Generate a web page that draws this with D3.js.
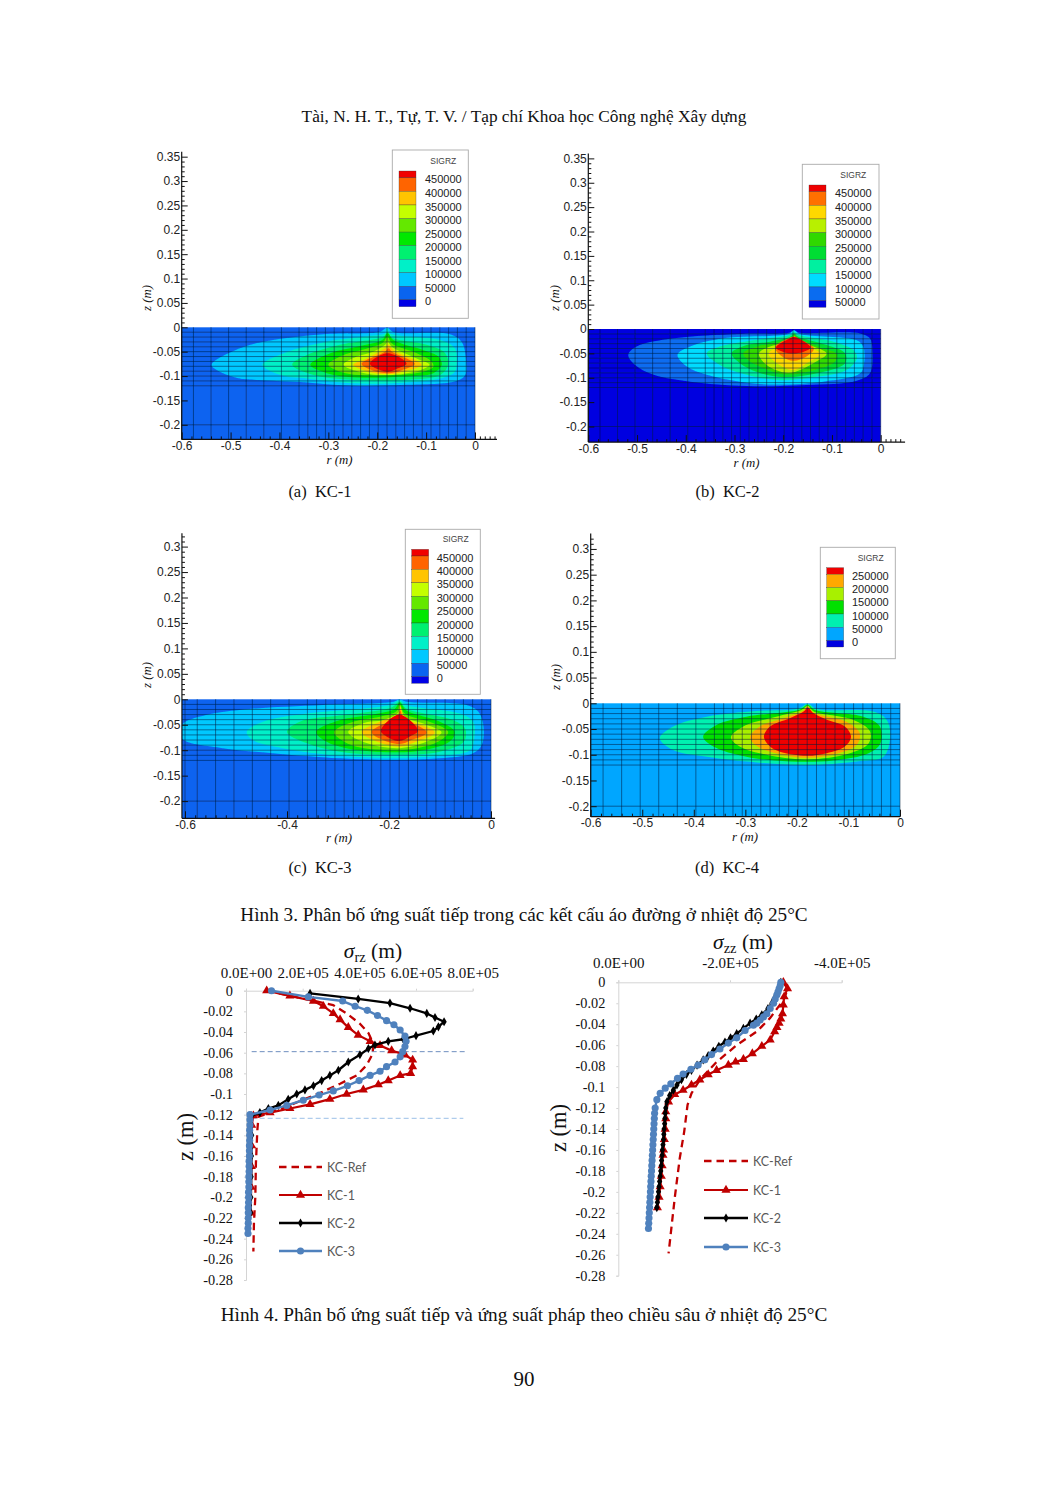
<!DOCTYPE html>
<html><head><meta charset="utf-8">
<script src="https://cdn.jsdelivr.net/npm/d3@7/dist/d3.min.js"></script>
<style>html,body{margin:0;padding:0;background:#fff}svg{display:block}</style>
</head><body><svg id="page" width="1047" height="1488"></svg>
<script>
// ---------- data: contour panels (r, z in metres, outlines of each stress band) ----------
const meshR=[-0.6,-0.576,-0.54,-0.504,-0.468,-0.432,-0.396,-0.36,-0.342,-0.324,-0.306,-0.288,-0.27,-0.252,-0.234,-0.216,-0.198,-0.18,-0.162,-0.144,-0.126,-0.108,-0.09,-0.072,-0.054,-0.036,-0.018,0];
const meshZ=[-0.01,-0.02,-0.03,-0.04,-0.05,-0.06,-0.07,-0.08,-0.09,-0.1,-0.11,-0.12,-0.2];
const colorsStd=["#0000e6","#0a64f0","#00c8ff","#00f0c8","#00f070","#00e800","#64e800","#c4ff00","#ffc400","#ff6400","#f00000"];
const colorsB=["#0000e0","#0a6cf0","#00dcff","#00f0a0","#00dd33","#30d800","#b8f000","#ffd800","#ff7000","#ee0000"];
const colorsD=["#0000e0","#00a6ff","#00f0b0","#00e000","#a8f000","#ffa800","#f00000"];
const labelsStd=["450000","400000","350000","300000","250000","200000","150000","100000","50000","0"];
const labelsB=["450000","400000","350000","300000","250000","200000","150000","100000","50000"];
const labelsD=["250000","200000","150000","100000","50000","0"];
const contoursA=[
[[-.539,-.077],[-.481,-.043],[-.413,-.026],[-.31,-.014],[-.194,-.009],[-.18,-.001],[-.166,-.01],[-.051,-.014],[-.027,-.03],[-.018,-.07],[-.02,-.098],[-.0375,-.11],[-.14,-.118],[-.249,-.12],[-.344,-.113],[-.447,-.108],[-.481,-.105],[-.522,-.091]],
[[-.435,-.077],[-.391,-.053],[-.302,-.029],[-.208,-.017],[-.184,-.012],[-.179,-.002],[-.174,-.012],[-.071,-.026],[-.041,-.043],[-.037,-.07],[-.041,-.091],[-.071,-.105],[-.14,-.113],[-.249,-.115],[-.344,-.105],[-.398,-.098]],
[[-.374,-.077],[-.344,-.057],[-.276,-.036],[-.187,-.019],[-.179,-.009],[-.17,-.021],[-.099,-.036],[-.061,-.053],[-.055,-.077],[-.071,-.098],[-.14,-.108],[-.249,-.108],[-.33,-.098]],
[[-.337,-.077],[-.296,-.053],[-.242,-.04],[-.19,-.026],[-.179,-.012],[-.167,-.026],[-.105,-.047],[-.075,-.06],[-.068,-.077],[-.085,-.094],[-.147,-.101],[-.242,-.103],[-.303,-.094]],
[[-.3,-.077],[-.269,-.057],[-.222,-.044],[-.188,-.031],[-.179,-.019],[-.17,-.033],[-.119,-.053],[-.089,-.07],[-.085,-.081],[-.106,-.091],[-.16,-.098],[-.235,-.098],[-.276,-.091]],
[[-.269,-.077],[-.242,-.06],[-.208,-.05],[-.184,-.036],[-.179,-.029],[-.17,-.04],[-.119,-.064],[-.093,-.077],[-.112,-.088],[-.177,-.098],[-.235,-.092]],
[[-.249,-.077],[-.222,-.064],[-.184,-.043],[-.177,-.036],[-.167,-.047],[-.109,-.077],[-.147,-.091],[-.177,-.096],[-.222,-.09]],
[[-.232,-.075],[-.184,-.05],[-.177,-.043],[-.17,-.05],[-.123,-.075],[-.153,-.089],[-.177,-.094],[-.208,-.089]],
[[-.215,-.074],[-.179,-.053],[-.14,-.074],[-.16,-.085],[-.177,-.091],[-.201,-.085]]];
const contoursB=[
[[-.518,-.053],[-.501,-.036],[-.425,-.019],[-.289,-.01],[-.186,-.007],[-.178,-.002],[-.169,-.007],[-.042,-.009],[-.022,-.019],[-.017,-.043],[-.022,-.091],[-.049,-.106],[-.152,-.115],[-.275,-.117],[-.391,-.108],[-.466,-.094],[-.504,-.074]],
[[-.417,-.053],[-.391,-.036],[-.323,-.019],[-.189,-.01],[-.178,-.003],[-.166,-.01],[-.049,-.023],[-.036,-.036],[-.034,-.07],[-.042,-.091],[-.118,-.108],[-.22,-.114],[-.289,-.108],[-.357,-.094],[-.398,-.077]],
[[-.357,-.05],[-.33,-.036],[-.261,-.023],[-.186,-.012],[-.178,-.005],[-.169,-.012],[-.097,-.026],[-.056,-.043],[-.049,-.06],[-.07,-.084],[-.131,-.098],[-.207,-.105],[-.275,-.094],[-.33,-.074]],
[[-.306,-.05],[-.275,-.033],[-.227,-.026],[-.186,-.016],[-.178,-.009],[-.169,-.016],[-.111,-.033],[-.073,-.05],[-.073,-.07],[-.131,-.091],[-.2,-.099],[-.254,-.088],[-.289,-.07]],
[[-.282,-.05],[-.254,-.036],[-.213,-.028],[-.182,-.019],[-.178,-.011],[-.169,-.019],[-.118,-.04],[-.09,-.051],[-.094,-.067],[-.152,-.088],[-.2,-.093],[-.248,-.077],[-.272,-.064]],
[[-.25,-.05],[-.227,-.036],[-.2,-.029],[-.181,-.019],[-.178,-.014],[-.169,-.024],[-.111,-.05],[-.138,-.07],[-.189,-.09],[-.234,-.074]],
[[-.23,-.05],[-.207,-.036],[-.181,-.024],[-.177,-.019],[-.169,-.029],[-.124,-.05],[-.152,-.07],[-.179,-.084],[-.213,-.07]],
[[-.217,-.038],[-.179,-.016],[-.172,-.019],[-.137,-.04],[-.155,-.058],[-.179,-.065],[-.2,-.058]],
[[-.215,-.038],[-.186,-.019],[-.179,-.016],[-.169,-.019],[-.144,-.038],[-.159,-.047],[-.179,-.05],[-.2,-.047]]];
const contoursC=[
[[-.606,-.05],[-.559,-.031],[-.474,-.019],[-.329,-.011],[-.192,-.005],[-.179,0],[-.166,-.005],[-.048,-.011],[-.025,-.024],[-.015,-.05],[-.018,-.09],[-.035,-.106],[-.1,-.116],[-.192,-.119],[-.297,-.116],[-.428,-.106],[-.526,-.096],[-.606,-.077]],
[[-.479,-.064],[-.447,-.044],[-.362,-.028],[-.198,-.011],[-.179,-.002],[-.166,-.011],[-.061,-.028],[-.035,-.044],[-.033,-.077],[-.041,-.1],[-.1,-.111],[-.192,-.115],[-.297,-.111],[-.408,-.096],[-.467,-.08]],
[[-.4,-.064],[-.375,-.044],[-.297,-.032],[-.195,-.016],[-.179,-.005],[-.166,-.018],[-.074,-.041],[-.051,-.057],[-.053,-.083],[-.1,-.103],[-.192,-.109],[-.297,-.103],[-.362,-.086]],
[[-.343,-.064],[-.297,-.041],[-.244,-.032],[-.189,-.019],[-.179,-.0065],[-.166,-.022],[-.1,-.044],[-.071,-.064],[-.081,-.083],[-.133,-.1],[-.192,-.104],[-.284,-.096],[-.323,-.083]],
[[-.308,-.064],[-.27,-.044],[-.225,-.036],[-.185,-.023],[-.179,-.009],[-.169,-.028],[-.113,-.047],[-.084,-.064],[-.103,-.083],[-.14,-.095],[-.185,-.1],[-.264,-.093],[-.293,-.08]],
[[-.28,-.064],[-.244,-.045],[-.212,-.041],[-.182,-.026],[-.179,-.012],[-.169,-.034],[-.126,-.05],[-.097,-.065],[-.126,-.083],[-.179,-.096],[-.244,-.086]],
[[-.254,-.064],[-.218,-.044],[-.182,-.03],[-.178,-.015],[-.169,-.036],[-.11,-.065],[-.146,-.083],[-.179,-.093],[-.231,-.08]],
[[-.234,-.064],[-.182,-.033],[-.178,-.022],[-.172,-.036],[-.126,-.065],[-.156,-.08],[-.179,-.088],[-.218,-.077]],
[[-.216,-.062],[-.18,-.03],[-.143,-.062],[-.159,-.073],[-.18,-.082],[-.205,-.073]]];
const contoursD=[
[[-.466,-.068],[-.44,-.045],[-.375,-.026],[-.278,-.015],[-.197,-.01],[-.179,-.001],[-.162,-.011],[-.052,-.016],[-.026,-.032],[-.019,-.065],[-.032,-.104],[-.084,-.113],[-.181,-.12],[-.278,-.115],[-.375,-.104],[-.44,-.091]],
[[-.382,-.065],[-.356,-.042],[-.298,-.026],[-.194,-.012],[-.179,-.003],[-.165,-.013],[-.071,-.026],[-.039,-.045],[-.038,-.078],[-.061,-.097],[-.129,-.111],[-.214,-.113],[-.298,-.104],[-.362,-.084]],
[[-.328,-.066],[-.304,-.045],[-.252,-.029],[-.191,-.013],[-.179,-.005],[-.167,-.016],[-.091,-.032],[-.058,-.055],[-.061,-.078],[-.097,-.097],[-.181,-.109],[-.259,-.1],[-.311,-.084]],
[[-.291,-.066],[-.272,-.045],[-.226,-.029],[-.187,-.014],[-.179,-.006],[-.168,-.018],[-.104,-.036],[-.078,-.058],[-.084,-.081],[-.116,-.096],[-.181,-.106],[-.252,-.094],[-.278,-.083]],
[[-.264,-.065],[-.252,-.045],[-.214,-.029],[-.187,-.016],[-.179,-.008],[-.168,-.019],[-.142,-.032],[-.107,-.045],[-.095,-.065],[-.107,-.084],[-.142,-.097],[-.181,-.102],[-.233,-.094],[-.252,-.084]]];
const rTicks=[-0.6,-0.5,-0.4,-0.3,-0.2,-0.1,0];
const rTicksC=[-0.6,-0.4,-0.2,0];
const zTicks35=[0.35,0.3,0.25,0.2,0.15,0.1,0.05,0,-0.05,-0.1,-0.15,-0.2];
const zTicks30=[0.3,0.25,0.2,0.15,0.1,0.05,0,-0.05,-0.1,-0.15,-0.2];
const rMinor=[-0.58,-0.56,-0.54,-0.52,-0.48,-0.46,-0.44,-0.42,-0.38,-0.36,-0.34,-0.32,-0.28,-0.26,-0.24,-0.22,-0.18,-0.16,-0.14,-0.12,-0.08,-0.06,-0.04,-0.02,0.01,0.02,0.03,0.04];
const zMinor=[0.34,0.33,0.32,0.31,0.29,0.28,0.27,0.26,0.24,0.23,0.22,0.21,0.19,0.18,0.17,0.16,0.14,0.13,0.12,0.11,0.09,0.08,0.07,0.06,0.04,0.03,0.02,0.01];

// ---------- data: depth profiles ----------
const zAxisTicks=[0,-0.02,-0.04,-0.06,-0.08,-0.1,-0.12,-0.14,-0.16,-0.18,-0.2,-0.22,-0.24,-0.26,-0.28];
const rzTicks=[0,2,4,6,8];
const rzLabels=["0.0E+00","2.0E+05","4.0E+05","6.0E+05","8.0E+05"];
const zzTicks=[0,-2,-4];
const zzLabels=["0.0E+00","-2.0E+05","-4.0E+05"];
const seriesNames=["KC-Ref","KC-1","KC-2","KC-3"];
const rzGuides=[[-0.059,0.2,7.8,"#6f8fbf"],[-0.1235,0.2,7.67,"#9cc0e8"]];
const rzRef=[[.73,0],[2.26,-.009],[3.08,-.014],[3.55,-.022],[4.02,-.032],[4.32,-.041],[4.49,-.051],[4.47,-.061],[4.26,-.072],[3.91,-.082],[3.32,-.09],[2.61,-.099],[1.44,-.112],[.44,-.122],[.4,-.135],[.35,-.167],[.33,-.199],[.28,-.225],[.26,-.2525]];
const rzKC1=[[.73,0],[1.55,-.005],[2.38,-.01],[2.73,-.015],[3.08,-.022],[3.32,-.028],[3.61,-.0355],[3.96,-.043],[4.38,-.049],[4.73,-.053],[5.14,-.058],[5.61,-.062],[5.88,-.067],[5.88,-.0735],[5.81,-.08],[5.44,-.082],[5.02,-.087],[4.67,-.091],[4.14,-.096],[3.55,-.1],[2.96,-.105],[2.26,-.11],[1.55,-.114],[.85,-.118],[.26,-.121],[.2,-.13],[.2,-.15],[.19,-.17],[.18,-.19],[.17,-.215]];
const rzKC2=[[2.26,-.0026],[3.96,-.008],[5.08,-.012],[5.79,-.017],[6.38,-.022],[6.67,-.026],[6.99,-.03],[6.79,-.035],[6.61,-.039],[6,-.0435],[5.55,-.047],[5.02,-.049],[4.55,-.0525],[4.32,-.056],[4.02,-.062],[3.61,-.069],[3.26,-.077],[2.96,-.082],[2.67,-.087],[2.38,-.092],[2.08,-.096],[1.79,-.1],[1.49,-.105],[1.14,-.111],[.79,-.114],[.49,-.118],[.2,-.121],[.2,-.14],[.19,-.16],[.18,-.18],[.17,-.2],[.16,-.215]];
const rzKC3=[[.9,0],[2.2,-.006],[3.41,-.01],[3.85,-.015],[4.28,-.019],[4.64,-.024],[4.96,-.029],[5.22,-.033],[5.44,-.038],[5.61,-.044],[5.65,-.049],[5.61,-.054],[5.53,-.059],[5.44,-.064],[5.26,-.069],[4.96,-.0735],[4.73,-.078],[4.38,-.082],[3.99,-.087],[3.58,-.092],[3.08,-.097],[2.58,-.101],[2.02,-.106],[1.44,-.111],[.85,-.1155],[.14,-.12],[.14,-.125],[.14,-.13],[.13,-.135],[.13,-.14],[.13,-.145],[.12,-.15],[.12,-.155],[.12,-.16],[.11,-.165],[.11,-.17],[.11,-.175],[.1,-.18],[.1,-.185],[.1,-.19],[.09,-.195],[.09,-.2],[.09,-.205],[.08,-.21],[.08,-.215],[.08,-.22],[.08,-.225],[.07,-.23],[.07,-.235]];
const zzRef=[[-2.955,0],[-3.04,-.006],[-2.955,-.017],[-2.72,-.034],[-2.48,-.047],[-2.12,-.06],[-1.76,-.076],[-1.46,-.093],[-1.31,-.106],[-1.24,-.117],[-1.18,-.1425],[-1.1,-.168],[-1.01,-.206],[-.9,-.2587]];
const zzKC1=[[-2.955,0],[-3.03,-.006],[-2.97,-.0137],[-2.955,-.0216],[-2.94,-.03],[-2.91,-.035],[-2.88,-.039],[-2.84,-.043],[-2.8,-.047],[-2.72,-.055],[-2.57,-.061],[-2.4,-.068],[-2.24,-.0735],[-2.1,-.076],[-1.97,-.079],[-1.76,-.084],[-1.61,-.088],[-1.46,-.093],[-1.31,-.098],[-1.16,-.103],[-1.01,-.107],[-.9,-.114],[-.85,-.1235],[-.85,-.13],[-.84,-.14],[-.825,-.15],[-.81,-.16],[-.8,-.165],[-.785,-.175],[-.77,-.185],[-.75,-.195],[-.73,-.205],[-.7,-.215]];
const zzKC2=[[-2.91,0],[-2.9,-.003],[-2.87,-.007],[-2.83,-.012],[-2.79,-.016],[-2.75,-.02],[-2.68,-.025],[-2.57,-.031],[-2.47,-.035],[-2.36,-.039],[-2.24,-.044],[-2.12,-.049],[-2.01,-.053],[-1.91,-.057],[-1.8,-.061],[-1.7,-.0655],[-1.61,-.07],[-1.52,-.074],[-1.41,-.079],[-1.31,-.084],[-1.22,-.088],[-1.13,-.093],[-1.05,-.098],[-.985,-.103],[-.92,-.108],[-.87,-.114],[-.85,-.12],[-.84,-.125],[-.835,-.13],[-.83,-.135],[-.82,-.14],[-.815,-.145],[-.81,-.15],[-.8,-.155],[-.79,-.16],[-.785,-.165],[-.775,-.17],[-.77,-.175],[-.76,-.18],[-.75,-.185],[-.74,-.19],[-.73,-.195],[-.72,-.2],[-.71,-.205],[-.7,-.21],[-.69,-.215]];
const zzKC3=[[-2.91,0],[-2.9,-.003],[-2.88,-.006],[-2.86,-.009],[-2.84,-.012],[-2.81,-.016],[-2.78,-.02],[-2.72,-.025],[-2.66,-.03],[-2.6,-.033],[-2.54,-.036],[-2.48,-.039],[-2.42,-.041],[-2.27,-.046],[-2.12,-.053],[-1.97,-.058],[-1.82,-.0636],[-1.67,-.069],[-1.55,-.074],[-1.43,-.079],[-1.3,-.083],[-1.16,-.0875],[-1.06,-.0916],[-.94,-.097],[-.84,-.101],[-.75,-.106],[-.69,-.112],[-.66,-.12],[-.65,-.125],[-.645,-.13],[-.64,-.135],[-.635,-.14],[-.63,-.145],[-.625,-.15],[-.62,-.155],[-.615,-.16],[-.61,-.165],[-.605,-.17],[-.6,-.175],[-.595,-.18],[-.59,-.185],[-.585,-.19],[-.58,-.195],[-.575,-.2],[-.57,-.205],[-.565,-.21],[-.56,-.215],[-.555,-.22],[-.55,-.225],[-.545,-.23],[-.54,-.235]];

// ---------- page text ----------
const headerText="Tài, N. H. T., Tự, T. V. / Tạp chí Khoa học Công nghệ Xây dựng";
const fig3Text="Hình 3. Phân bố ứng suất tiếp trong các kết cấu áo đường ở nhiệt độ 25°C";
const fig4Text="Hình 4. Phân bố ứng suất tiếp và ứng suất pháp theo chiều sâu ở nhiệt độ 25°C";
const SERIF="'Liberation Serif','Times New Roman',serif", SANS="'Liberation Sans',Arial,sans-serif", CAL="Lato,'Open Sans',sans-serif";

const svg=d3.select("#page");
svg.append("defs").append("filter").attr("id","soft").attr("x","-5%").attr("y","-5%").attr("width","110%").attr("height","110%")
  .append("feGaussianBlur").attr("stdDeviation",0.45);
function text(s,x,y,size,anchor="middle",extra={}){
  const t=svg.append("text").attr("x",x).attr("y",y).attr("font-family",SERIF).attr("font-size",size).attr("text-anchor",anchor).attr("fill","#111").text(s);
  Object.entries(extra).forEach(([k,v])=>t.attr(k,v));return t;
}
text(headerText,524,122,17.3);
text("(a)  KC-1",320,497,16.5,"middle",{"xml:space":"preserve"});
text("(b)  KC-2",727.5,497,16.5,"middle",{"xml:space":"preserve"});
text("(c)  KC-3",320,873,16.5,"middle",{"xml:space":"preserve"});
text("(d)  KC-4",727,873,16.5,"middle",{"xml:space":"preserve"});
text(fig3Text,524,921,19.2);
text(fig4Text,524,1321,19.25);
text("90",524,1386,21);

// ---------- contour panels ----------
const contourPath=d3.line().x(d=>d[0]).y(d=>d[1]).curve(d3.curveCatmullRomClosed.alpha(0.5));
function panel(o){
  const x=d3.scaleLinear().domain([-0.6,0]).range(o.xr);
  const y=d3.scaleLinear().domain([0,-0.2]).range(o.yr);
  const g=svg.append("g");
  const plot=g.append("g").attr("filter","url(#soft)");
  plot.append("rect").attr("x",x(o.rMin)).attr("y",y(0)).attr("width",x(0)-x(o.rMin)).attr("height",y(o.zMin)-y(0)).attr("fill",o.bands[0]);
  const clipId="clip"+o.id;
  svg.select("defs").append("clipPath").attr("id",clipId).append("rect").attr("x",x(o.rMin)).attr("y",y(0)).attr("width",x(0)-x(o.rMin)).attr("height",y(o.zMin)-y(0));
  const cg=plot.append("g").attr("clip-path",`url(#${clipId})`);
  o.contours.forEach((c,i)=>{
    cg.append("path").attr("d",contourPath(c.map(p=>[x(p[0]),y(p[1])]))).attr("fill",o.bands[i+1]);
  });
  plot.selectAll(".v").data(meshR).enter().append("line").attr("x1",d=>x(d)).attr("x2",d=>x(d)).attr("y1",y(0)).attr("y2",y(o.zMin)).attr("stroke","#04183c").attr("stroke-opacity",.62).attr("stroke-width",.85);
  plot.selectAll(".h").data(meshZ).enter().append("line").attr("y1",d=>y(d)).attr("y2",d=>y(d)).attr("x1",x(o.rMin)).attr("x2",x(0)).attr("stroke","#04183c").attr("stroke-opacity",.62).attr("stroke-width",.85);
  // axes
  const left=g.append("g").attr("transform",`translate(${x(o.rMin)},0)`);
  left.call(d3.axisLeft(y).tickValues(o.zTicks).tickSize(-6).tickPadding(1.5).tickFormat(String));
  left.append("g").call(d3.axisLeft(y).tickValues(zMinor.filter(v=>v<o.zTop)).tickSize(-3).tickFormat(""));
  left.selectAll("path").attr("display","none");
  left.append("line").attr("y1",y(o.zTop)).attr("y2",y(o.zMin)).attr("stroke","#111").attr("stroke-width",1.2);
  const bottom=g.append("g").attr("transform",`translate(0,${y(o.zMin)})`);
  bottom.call(d3.axisBottom(x).tickValues(o.rTicks).tickSize(-7).tickPadding(o.labelPad).tickFormat(String));
  bottom.append("g").call(d3.axisBottom(x).tickValues(rMinor.filter(v=>v<=o.rMax)).tickSize(-3).tickFormat(""));
  bottom.selectAll("path").attr("display","none");
  bottom.append("line").attr("x1",x(o.rMin)).attr("x2",x(o.rMax)).attr("stroke","#111").attr("stroke-width",1.2);
  g.selectAll(".tick line").attr("stroke","#111");
  g.selectAll(".tick text").attr("font-family",SANS).attr("font-size",12).attr("fill","#222");
  text("r (m)",o.rLabel[0],o.rLabel[1],12.8,"middle",{"font-style":"italic"});
  text("z (m)",0,0,12.8,"middle",{"font-style":"italic",transform:`translate(${o.zLabel[0]},${o.zLabel[1]}) rotate(-90)`});
  // legend
  const L=o.leg;
  g.append("rect").attr("x",L.x0).attr("y",L.y0).attr("width",L.x1-L.x0).attr("height",L.y1-L.y0).attr("fill","#fff").attr("stroke","#aaa").attr("stroke-width",.9);
  g.append("text").attr("x",L.tx).attr("y",L.ty).attr("font-family",SANS).attr("font-size",8.5).attr("fill","#444").attr("text-anchor","middle").text("SIGRZ");
  const n=L.colors.length, step=L.step, half=(L.sb-L.st-(n-2)*step)/2;
  const top=L.colors.slice().reverse();
  let yy=L.st;
  top.forEach((c,i)=>{
    const h=(i===0||i===n-1)?half:step;
    g.append("rect").attr("x",L.sx).attr("y",yy).attr("width",17).attr("height",h).attr("fill",c).attr("stroke","#333").attr("stroke-width",.3);
    yy+=h;
  });
  L.labels.forEach((s,i)=>{
    g.append("text").attr("x",L.lx).attr("y",L.st+half+i*step+1.6+4).attr("font-family",SANS).attr("font-size",11).attr("fill","#222").text(s);
  });
}
panel({id:"a",xr:[181.7,475],yr:[327.3,424.8],rMin:-0.6,rMax:0.045,zMin:-0.23,zTop:0.36,contours:contoursA,bands:colorsStd.slice(1),rTicks:rTicks,zTicks:zTicks35,labelPad:2,rLabel:[339.5,464],zLabel:[151,298],
 leg:{x0:392.3,x1:468.3,y0:150,y1:318.3,tx:443.3,ty:163.5,sx:399,st:171,sb:306.7,step:13.55,lx:425,colors:colorsStd,labels:labelsStd}});
panel({id:"b",xr:[588.3,880.7],yr:[329,426.5],rMin:-0.6,rMax:0.05,zMin:-0.232,zTop:0.36,contours:contoursB,bands:colorsB,rTicks:rTicks,zTicks:zTicks35,labelPad:2,rLabel:[746.5,467],zLabel:[559,298],
 leg:{x0:802.3,x1:879,y0:164.3,y1:319,tx:853.3,ty:178,sx:809,st:185,sb:307.3,step:13.6,lx:835,colors:colorsB,labels:labelsB}});
panel({id:"c",xr:[185,491],yr:[699.3,801.1],rMin:-0.606,rMax:0.008,zMin:-0.2338,zTop:0.326,contours:contoursC,bands:colorsStd.slice(1),rTicks:rTicksC,zTicks:zTicks30,labelPad:2,rLabel:[339,842],zLabel:[151,675],
 leg:{x0:405.3,x1:480.3,y0:529.3,y1:694.3,tx:455.7,ty:542,sx:411.7,st:549.3,sb:683.3,step:13.4,lx:436.7,colors:colorsStd,labels:labelsStd}});
panel({id:"d",xr:[590.7,900],yr:[703.3,806.2],rMin:-0.6,rMax:0,zMin:-0.2204,zTop:0.33,contours:contoursD,bands:colorsD.slice(1),rTicks:rTicks,zTicks:zTicks30,labelPad:2,rLabel:[745,841],zLabel:[560,677],
 leg:{x0:820.3,x1:895.3,y0:547.3,y1:658.7,tx:870.7,ty:561,sx:826.7,st:567.7,sb:647,step:13.25,lx:852,colors:colorsD,labels:labelsD}});

// ---------- depth profile charts ----------
function marker(sel,type,px,py){
  const col={ "KC-1":"#c00000","KC-2":"#000","KC-3":"#4f81bd"}[type];
  const sym={ "KC-1":[d3.symbolTriangle,36],"KC-2":[d3.symbolDiamond,24],"KC-3":[d3.symbolCircle,40]}[type];
  sel.append("path").attr("transform",`translate(${px},${py})`).attr("d",d3.symbol().type(sym[0]).size(sym[1])()).attr("fill",col);
}
const styles={"KC-Ref":["#c00000",2.3,"7.5,5"],"KC-1":["#c00000",2.2,null],"KC-2":["#000",2.3,null],"KC-3":["#4f81bd",2.4,null]};
function chart(o){
  const x=d3.scaleLinear().domain(o.xd).range(o.xr);
  const y=d3.scaleLinear().domain([0,-0.28]).range(o.yr);
  const g=svg.append("g");
  const top=g.append("g").attr("transform",`translate(0,${o.yr[0]})`)
    .call(d3.axisTop(x).tickValues(o.xTicks).tickSize(2).tickPadding(o.xPad).tickFormat((d,i)=>o.xLabels[i]));
  const left=g.append("g").attr("transform",`translate(${o.xr[0]},0)`)
    .call(d3.axisLeft(y).tickValues(zAxisTicks).tickSize(2).tickPadding(11).tickFormat(String));
  g.selectAll(".domain").attr("stroke","#d4d4d4");
  g.selectAll(".tick line").attr("stroke","#d4d4d4");
  top.selectAll("text").attr("font-family",SERIF).attr("font-size",15).attr("fill","#111");
  left.selectAll("text").attr("font-family",SERIF).attr("font-size",14.3).attr("fill","#111");
  (o.guides||[]).forEach(r=>{
    g.append("line").attr("x1",x(r[1])).attr("x2",x(r[2])).attr("y1",y(r[0])).attr("y2",y(r[0])).attr("stroke",r[3]).attr("stroke-width",1).attr("stroke-dasharray","5,3");
  });
  const ln=d3.line().x(d=>x(d[0])).y(d=>y(d[1]));
  o.series.forEach((s,i)=>{
    const name=seriesNames[i], st=styles[name];
    const p=g.append("path").attr("d",ln(s)).attr("fill","none").attr("stroke",st[0]).attr("stroke-width",st[1]).attr("stroke-linejoin","round");
    if(st[2]) p.attr("stroke-dasharray",st[2]);
    if(name!=="KC-Ref") s.forEach(d=>marker(g,name,x(d[0]),y(d[1])));
  });
  seriesNames.forEach((name,i)=>{
    const st=styles[name], ly=o.legY[i];
    const l=g.append("line").attr("x1",o.legX[0]).attr("x2",o.legX[1]).attr("y1",ly).attr("y2",ly).attr("stroke",st[0]).attr("stroke-width",st[1]);
    if(st[2]) l.attr("stroke-dasharray",st[2]);
    if(name!=="KC-Ref") marker(g,name,(o.legX[0]+o.legX[1])/2,ly);
    g.append("text").attr("x",o.legX[2]).attr("y",ly+4.5).attr("font-family",CAL).attr("font-size",12.5).attr("fill","#595959").text(name);
  });
  // title
  const t=svg.append("text").attr("x",o.title[0]).attr("y",o.title[1]).attr("font-family",SERIF).attr("font-size",21.5).attr("fill","#111").attr("text-anchor","middle");
  t.append("tspan").attr("font-style","italic").text("σ");
  t.append("tspan").attr("font-size",14.5).attr("dy",3.5).text(o.sub);
  t.append("tspan").attr("dy",-3.5).text(" (m)");
  text("z (m)",0,0,22.5,"middle",{transform:`translate(${o.zl[0]},${o.zl[1]}) rotate(-90)`});
}
chart({xd:[0,8],xr:[246,472.7],yr:[990.7,1280],xTicks:rzTicks,xLabels:rzLabels,xPad:11,guides:rzGuides,series:[rzRef,rzKC1,rzKC2,rzKC3],legX:[279,322,327],legY:[1167,1195,1223,1251],title:[373,958],sub:"rz",zl:[193,1137]});
chart({xd:[0,-4],xr:[618.3,841.7],yr:[982.3,1275.7],xTicks:zzTicks,xLabels:zzLabels,xPad:12,series:[zzRef,zzKC1,zzKC2,zzKC3],legX:[704,748,753],legY:[1161,1190,1218,1247],title:[743,949],sub:"zz",zl:[566,1128]});
</script></body></html>
